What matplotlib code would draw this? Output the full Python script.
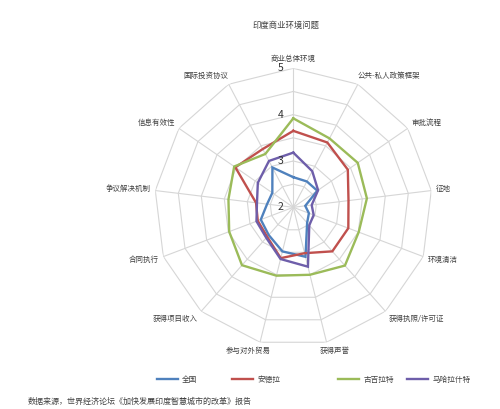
import numpy as np
import matplotlib
matplotlib.use('Agg')
import matplotlib.pyplot as plt

plt.rcParams['font.family'] = ['Noto Sans CJK SC', 'DejaVu Sans']

# ---------------- data ----------------
title = '印度商业环境问题'
source = '数据来源，世界经济论坛《加快发展印度智慧城市的改革》报告'
categories = ['商业总体环境', '公共-私人政策框架', '审批流程', '征地', '环境清洁',
              '获得执照/许可证', '获得声誉', '参与对外贸易', '获得项目收入',
              '合同执行', '争议解决机制', '信息有效性', '国际投资协议']
series_names = ['全国', '安德拉', '古吉拉特', '马哈拉什特']
national = [2.65, 2.63, 2.63, 2.26, 2.36, 2.45, 3.10, 2.98, 2.80, 2.75, 2.57, 2.55, 2.97]
andhra   = [3.65, 3.58, 3.43, 3.20, 3.27, 3.27, 3.02, 3.13, 2.85, 2.82, 2.81, 3.52, 3.42]
gujarat  = [3.92, 3.68, 3.69, 3.60, 3.51, 3.68, 3.50, 3.52, 3.67, 3.48, 3.41, 3.55, 3.30]
maha     = [3.18, 2.88, 2.65, 2.40, 2.47, 2.52, 3.32, 3.15, 2.88, 2.85, 2.79, 2.93, 3.13]
r_ticks = [2, 3, 4, 5]
grid_levels = [2.5, 3, 3.5, 4, 4.5, 5]
colors = ['#4F81BD', '#C0504D', '#9BBB59', '#6E5EAA']

# ---------------- figure ----------------
DPI = 100
fig = plt.figure(figsize=(5.0, 4.09), dpi=DPI)
ax = fig.add_axes([0.3086, 0.1533, 0.556, 0.6797], projection='polar')
ax.set_theta_zero_location('N')
ax.set_theta_direction(-1)
ax.set_ylim(r_ticks[0], r_ticks[-1])
ax.grid(False)
ax.set_xticks([])
ax.set_yticks([])
ax.spines['polar'].set_visible(False)
ax.patch.set_alpha(0)

n = len(categories)
theta = np.arange(n) * 2 * np.pi / n
theta_c = np.append(theta, theta[0])

grid_c = '#d6d6d6'
for lvl in grid_levels:
    ax.plot(theta_c, [lvl] * (n + 1), color=grid_c, lw=0.8, zorder=1)
for t in theta:
    ax.plot([t, t], [r_ticks[0], r_ticks[-1]], color=grid_c, lw=0.8, zorder=1)

handles = []
for vals, c, name in zip([national, andhra, gujarat, maha], colors, series_names):
    h, = ax.plot(theta_c, list(vals) + [vals[0]], color=c, lw=1.7, zorder=3,
                 label=name, solid_joinstyle='miter')
    handles.append(h)

for v in r_ticks:
    ax.annotate(str(v), xy=(0, v), xytext=(-7, 0), textcoords='offset points',
                ha='right', va='center', fontsize=7.5, color='#333333', zorder=4)

# category labels
texts = []
for t, lab in zip(theta, categories):
    tx = ax.annotate(lab, xy=(t, r_ticks[-1]), xytext=(0, 0), textcoords='offset pixels',
                     ha='left', va='bottom', fontsize=5.4, color='#404040',
                     annotation_clip=False)
    texts.append(tx)

fig.canvas.draw()
renderer = fig.canvas.get_renderer()
for t, tx in zip(theta, texts):
    bb = tx.get_window_extent(renderer)
    w, hgt = bb.width, bb.height
    ang = np.pi / 2 - t  # math angle
    c, s = np.cos(ang), np.sin(ang)
    fx = 0.5 - 0.5 * np.clip(2 * c, -1, 1)
    fy = 0.5 - 0.5 * np.clip(1.2 * s, -1, 1)
    pad = 5
    ox = pad * c - fx * w
    oy = pad * s - fy * hgt
    tx.xyann = (ox, oy)

fig.text(0.571, 1 - 25 / 409, title, ha='center', va='center', fontsize=6, color='#404040')
fig.text(28 / 500, 1 - 401 / 409, source, ha='left', va='center', fontsize=5.8, color='#404040')

leg_x = [157, 232, 338, 407]
for h, name, x in zip(handles, series_names, leg_x):
    fig.legend(handles=[h], labels=[name], loc='center left',
               bbox_to_anchor=(x / 500, 1 - 380 / 409), frameon=False,
               borderpad=0, borderaxespad=0, handlelength=2.7, handletextpad=0.6,
               fontsize=5.5, labelcolor='#404040')

fig.savefig('out.png', dpi=DPI, facecolor='white')
